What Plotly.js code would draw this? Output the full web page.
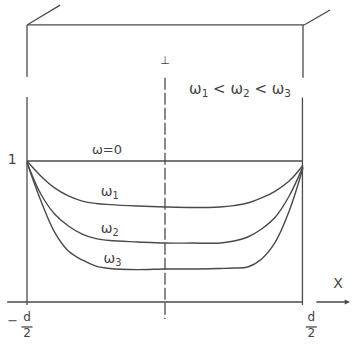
<!DOCTYPE html>
<html>
<head>
<meta charset="utf-8">
<script src="https://cdn.plot.ly/plotly-3.0.1.min.js"></script>
<style>
  html, body { margin: 0; padding: 0; background: #fff; }
  #plot { width: 353px; height: 349px; }
</style>
</head>
<body>
<div id="plot"></div>
<script>
// positions across the slab, in units of d (from -d/2 to d/2)
var xs = [-0.5, -0.45, -0.4, -0.35, -0.3, -0.25, -0.2, -0.1, 0, 0.1, 0.2, 0.25, 0.3, 0.35, 0.4, 0.45, 0.5];

// relative amplitude
var w0 = [1, 1, 1, 1, 1, 1, 1, 1, 1, 1, 1, 1, 1, 1, 1, 1, 1];
var w1 = [1.0, 0.894, 0.809, 0.752, 0.716, 0.699, 0.691, 0.681, 0.674, 0.670, 0.674, 0.684, 0.702, 0.738, 0.787, 0.858, 0.97];
var w2 = [0.99, 0.766, 0.624, 0.539, 0.482, 0.450, 0.436, 0.426, 0.418, 0.418, 0.418, 0.433, 0.461, 0.518, 0.603, 0.752, 0.96];
var w3 = [0.99, 0.72, 0.496, 0.362, 0.298, 0.255, 0.238, 0.230, 0.234, 0.234, 0.238, 0.241, 0.248, 0.305, 0.426, 0.645, 0.95];

// labels written on the sketch
var labelText = ['1', 'ω=0', 'ω<sub>1</sub>', 'ω<sub>2</sub>', 'ω<sub>3</sub>',
                 'ω<sub>1</sub> &lt; ω<sub>2</sub> &lt; ω<sub>3</sub>', 'X', '⊥', '−', 'd<br>2', 'd<br>2'];
var labelX = [-0.554, -0.21, -0.2, -0.2, -0.19, 0.272, 0.627, 0, -0.552, -0.5, 0.53];
var labelY = [1.007, 1.075, 0.775, 0.513, 0.3, 1.504, 0.121, 1.71, -0.14, -0.17, -0.17];
var labelSize = [14, 13, 14, 14, 14, 15, 14, 11, 13, 12, 12];

var ink = '#4a4a4a';

function curve(y) {
  return {
    x: xs, y: y, type: 'scatter', mode: 'lines',
    line: {color: ink, width: 1.4, shape: 'spline', smoothing: 1},
    hoverinfo: 'skip', showlegend: false
  };
}

var data = [curve(w0), curve(w1), curve(w2), curve(w3), {
  x: labelX, y: labelY, text: labelText, type: 'scatter', mode: 'text',
  textposition: 'middle center',
  textfont: {family: 'DejaVu Sans', size: labelSize, color: '#444'},
  hoverinfo: 'skip', showlegend: false, cliponaxis: false
}];

function seg(x0, y0, x1, y1, dash) {
  return {type: 'line', xref: 'x', yref: 'y', x0: x0, y0: y0, x1: x1, y1: y1,
          line: {color: ink, width: 1.3, dash: dash || 'solid'}};
}

var shapes = [
  // box drawn round the slab
  seg(-0.5, 1.965, 0.504, 1.965),
  seg(-0.5, 1.965, -0.38, 2.106),
  seg(0.504, 1.965, 0.598, 2.071),
  seg(-0.5, 1.965, -0.5, 1.596),
  seg(-0.5, 1.454, -0.5, -0.021),
  seg(0.5, 1.965, 0.5, 1.59),
  seg(0.498, 1.45, 0.498, -0.021),
  // axes
  seg(0, 1.59, 0, -0.12, '12px,3px'),
  seg(-0.572, 0, 0.496, 0),
  // fraction bars of d/2
  seg(-0.52, -0.177, -0.48, -0.177),
  seg(0.51, -0.177, 0.55, -0.177)
];

var layout = {
  width: 353, height: 349,
  margin: {l: 0, r: 0, t: 0, b: 0},
  paper_bgcolor: '#fff', plot_bgcolor: '#fff',
  xaxis: {range: [-0.5978, 0.6812], visible: false, fixedrange: true},
  yaxis: {range: [-0.3333, 2.142], visible: false, fixedrange: true},
  shapes: shapes,
  annotations: [{x: 0.67, y: 0, ax: 0.543, ay: 0, xref: 'x', yref: 'y', axref: 'x', ayref: 'y',
    text: '', showarrow: true, arrowhead: 2, arrowsize: 0.8, arrowwidth: 1.3, arrowcolor: ink}],
  showlegend: false
};

Plotly.newPlot('plot', data, layout, {displayModeBar: false});
</script>
</body>
</html>
